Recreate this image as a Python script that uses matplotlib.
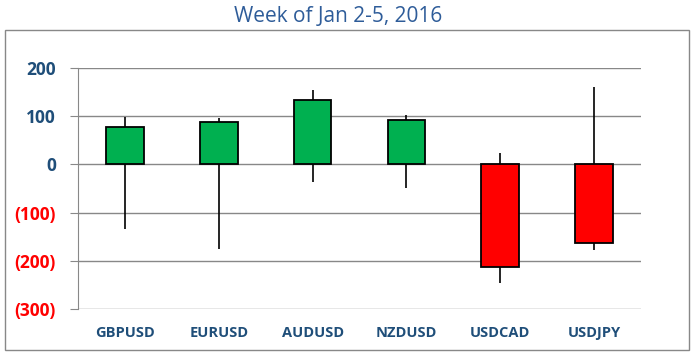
import numpy as np
import matplotlib.pyplot as plt
from matplotlib.patches import Rectangle
from matplotlib.ticker import FuncFormatter

# dane z tygodnia 2-5 stycznia 2016 (w pipsach, otwarcie = 0)
pairs = ['GBPUSD', 'EURUSD', 'AUDUSD', 'NZDUSD', 'USDCAD', 'USDJPY']
open_ = [0, 0, 0, 0, 0, 0]
close = [78, 89, 134, 93, -212, -164]
high = [98, 97, 154, 103, 24, 161]
low = [-135, -176, -36, -49, -246, -177]
y_ticks = [200, 100, 0, -100, -200, -300]

W, H = 694, 356
fig = plt.figure(figsize=(W / 100, H / 100), dpi=100)

# ramka wokol wykresu
fig.patches.append(Rectangle((5 / W, 1 - 350 / H), 684 / W, 320 / H, transform=fig.transFigure,
                             fill=False, edgecolor='#888888', lw=1))
fig.text(338 / W, 1 - 17 / H, 'Week of Jan 2-5, 2016', ha='center', va='center',
         fontsize=15, color='#2E5C99', family='Open Sans')

ax = fig.add_axes([78 / W, 1 - 309 / H, (641 - 78) / W, (309 - 68) / H])
x = np.arange(len(pairs))
colors = ['#00B050' if c >= o else '#FF0000' for o, c in zip(open_, close)]

ax.vlines(x, low, high, color='black', lw=1.2, zorder=2)
ax.bar(x, np.array(close) - np.array(open_), bottom=open_, width=0.4, color=colors,
       edgecolor='black', lw=1.3, zorder=3)

ax.set_xlim(-0.5, len(pairs) - 0.5)
ax.set_ylim(-300, 200)
ax.set_yticks(y_ticks)
ax.yaxis.set_major_formatter(FuncFormatter(lambda v, p: f'({abs(int(v))})' if v < 0 else f'{int(v)}'))
ax.grid(axis='y', color='#888888', lw=1, zorder=1)
ax.set_axisbelow(True)
for s in ['top', 'right', 'bottom']:
    ax.spines[s].set_visible(False)
ax.spines['left'].set_color('#888888')
ax.tick_params(axis='y', length=6, color='#888888', pad=10)
ax.tick_params(axis='x', length=0, pad=12)
ax.set_xticks(x)
ax.set_xticklabels(pairs)

for lab, v in zip(ax.get_yticklabels(), y_ticks):
    lab.set_color('#FF0000' if v < 0 else '#1F4E79')
    lab.set_fontweight('bold')
    lab.set_fontsize(12.5)
    lab.set_family('Open Sans')
for lab in ax.get_xticklabels():
    lab.set_color('#1F4E79')
    lab.set_fontweight('bold')
    lab.set_fontsize(10.5)
    lab.set_family('Open Sans')

fig.savefig('out.png', dpi=100)
